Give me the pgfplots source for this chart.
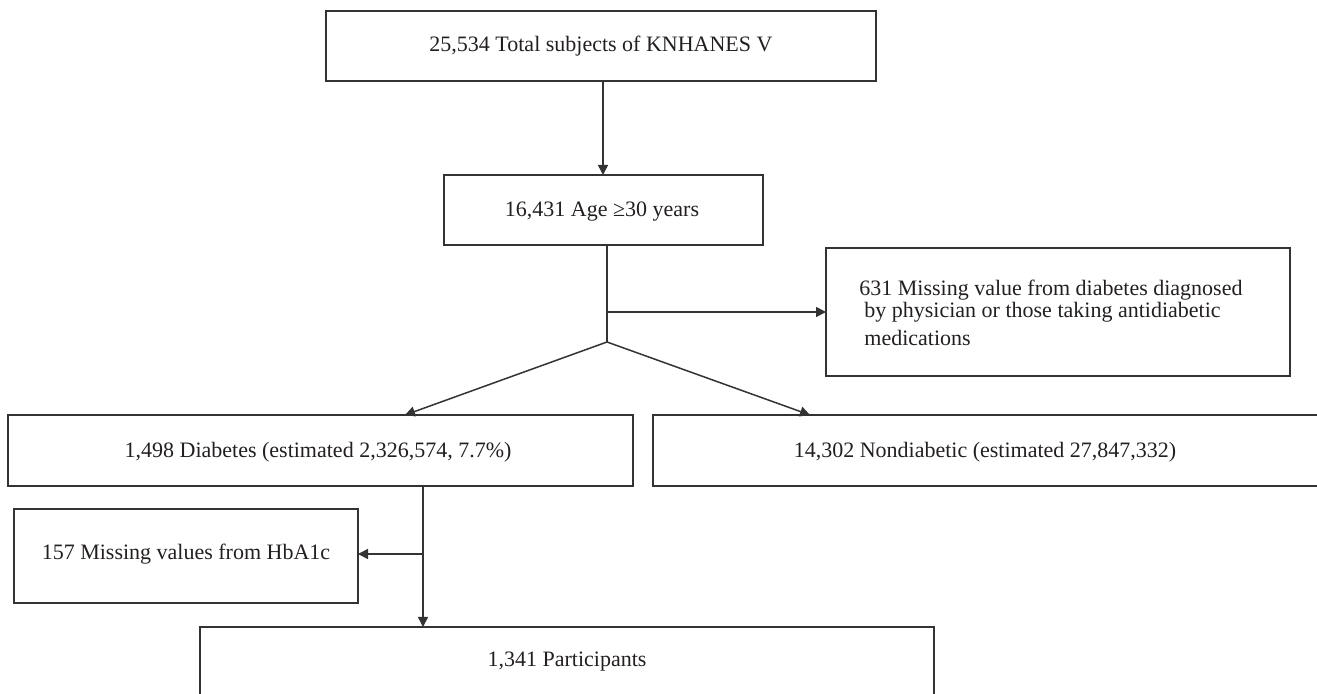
\documentclass[border=0pt]{standalone}
\usepackage{fontspec}
\setmainfont{Liberation Serif}
\usepackage{pgfplots}
\pgfplotsset{compat=1.18}
\usetikzlibrary{arrows.meta}
\definecolor{ln}{HTML}{333333}
\definecolor{tx}{HTML}{231F20}
\begin{document}
\begin{tikzpicture}
\begin{axis}[
  width=658.5pt, height=347pt, scale only axis,
  xmin=0, xmax=1317, ymin=0, ymax=694, y dir=reverse,
  hide axis, clip=true,
  box/.style={ln, line width=1pt, line join=miter, mark=none},
  arr/.style={ln, line width=0.75pt, mark=none, -{Triangle[length=5pt,width=5pt]}},
  lin/.style={ln, line width=0.75pt, mark=none},
]
% boxes
\addplot[box] coordinates {(326,11) (876,11) (876,81) (326,81) (326,11) (876,11)};
\addplot[box] coordinates {(444,175) (763,175) (763,245) (444,245) (444,175) (763,175)};
\addplot[box] coordinates {(826,248) (1290,248) (1290,376) (826,376) (826,248) (1290,248)};
\addplot[box] coordinates {(8,415) (633,415) (633,486) (8,486) (8,415) (633,415)};
\addplot[box] coordinates {(1340,415) (653,415) (653,486) (1340,486)};
\addplot[box] coordinates {(14,509) (358,509) (358,603) (14,603) (14,509) (358,509)};
\addplot[box] coordinates {(200,720) (200,627) (934,627) (934,720)};
% connectors
\addplot[arr] coordinates {(603,81) (603,175)};
\addplot[lin] coordinates {(607,245) (607,342)};
\addplot[arr] coordinates {(607,312) (826,312)};
\addplot[arr] coordinates {(607,342) (405,415)};
\addplot[arr] coordinates {(607,342) (810,415)};
\addplot[lin] coordinates {(423,486) (423,554)};
\addplot[arr] coordinates {(423,554) (358,554)};
\addplot[arr] coordinates {(423,554) (423,627)};
% texts
\begin{scope}[every node/.style={font=\fontsize{11}{13}\selectfont, text=tx, inner sep=0pt}]
\node at (axis cs:601,46) {25,534 Total subjects of KNHANES V};
\node at (axis cs:602,212) {16,431 Age ≥30 years};
\node[anchor=west] at (axis cs:859,290) {631 Missing value from diabetes diagnosed};
\node[anchor=west] at (axis cs:864,312) {by physician or those taking antidiabetic};
\node[anchor=west] at (axis cs:864,338) {medications};
\node at (axis cs:318,452) {1,498 Diabetes (estimated 2,326,574, 7.7\%)};
\node at (axis cs:985,452) {14,302 Nondiabetic (estimated 27,847,332)};
\node at (axis cs:186,554) {157 Missing values from HbA1c};
\node at (axis cs:567,662) {1,341 Participants};
\end{scope}
\end{axis}
\path (current axis.south west) rectangle (current axis.north east);
\end{tikzpicture}
\end{document}
